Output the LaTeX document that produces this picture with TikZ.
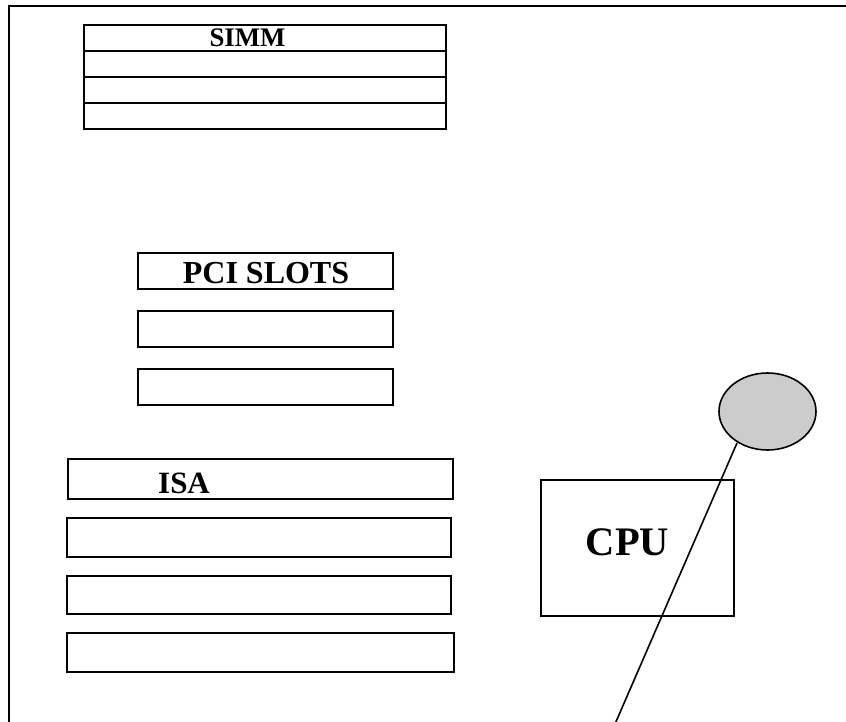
\documentclass[tikz,border=0pt]{standalone}
\usepackage{fontspec}
\setmainfont{Liberation Serif}
\usetikzlibrary{shapes.geometric}
\begin{document}
\begin{tikzpicture}[x=1pt,y=-1pt,
  slot/.style={draw=black,line width=2pt,rectangle,inner sep=0pt},
  lbl/.style={font=\bfseries,inner sep=0pt,anchor=base},
  wire/.style={draw=black,line width=1.6pt}]
\useasboundingbox (0,0) rectangle (846,722);
% outer frame (only top and left edges visible)
\draw[line width=2.2pt] (9,730) -- (9,6) -- (850,6);
% SIMM
\foreach \i/\t in {1/25,2/51,3/77,4/103}{
  \node[slot,minimum width=362pt,minimum height=26pt] (simm\i) at (265,\t+13) {};
}
\node[lbl,font=\bfseries\fontsize{26.8}{27}\selectfont] (simmlbl) at (247.5,47) {SIMM};
% PCI slots
\node[slot,minimum width=255pt,minimum height=36pt] (pci1) at (265.5,271) {};
\node[slot,minimum width=255pt,minimum height=36pt] (pci2) at (265.5,329) {};
\node[slot,minimum width=255pt,minimum height=36pt] (pci3) at (265.5,387) {};
\node[lbl,font=\bfseries\fontsize{32}{32}\selectfont] (pcilbl) at (266,283) {PCI SLOTS};
% ISA
\node[slot,minimum width=385pt,minimum height=40pt] (isa1) at (260.5,479) {};
\node[slot,minimum width=384pt,minimum height=39pt] (isa2) at (259,537.5) {};
\node[slot,minimum width=384pt,minimum height=38pt] (isa3) at (259,595) {};
\node[slot,minimum width=387pt,minimum height=39pt] (isa4) at (260.5,652.5) {};
\node[lbl,anchor=base west,font=\bfseries\fontsize{31}{31}\selectfont] (isalbl) at (158,493) {ISA};
% CPU
\node[draw=black,line width=1.8pt,rectangle,inner sep=0pt,minimum width=193pt,minimum height=136pt] (cpu) at (637.5,548) {};
\node[lbl,font=\bfseries\fontsize{40.5}{41}\selectfont] (cpulbl) at (627.5,555) {CPU};
% fan / ellipse
\node[draw=black,fill=black!20,line width=1.6pt,ellipse,inner sep=0pt,minimum width=97pt,minimum height=77pt] (fan) at (767.5,411.5) {};
\coordinate (wstart) at (737,443);
\coordinate (wend) at (615,724);
\draw[wire] (wstart) -- (wend);
\end{tikzpicture}
\end{document}
